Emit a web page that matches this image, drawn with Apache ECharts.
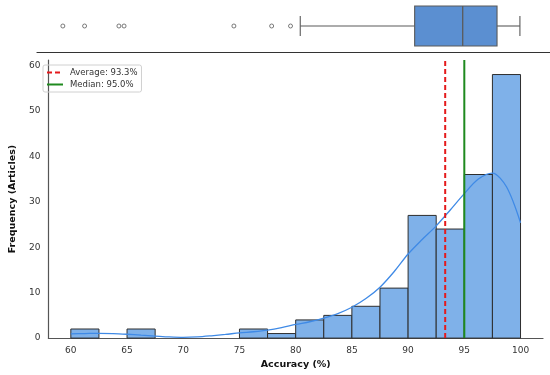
<!DOCTYPE html>
<html><head><meta charset="utf-8">
<script src="https://cdn.jsdelivr.net/npm/echarts@6/dist/echarts.min.js"></script>
<style>html,body{margin:0;padding:0;background:#fff}#c{width:550px;height:375px}</style>
</head><body><div id="c"></div>
<script>
// Histogram bins (start of each 2.5-wide bin) and counts
const binStarts = [60, 62.5, 65, 67.5, 70, 72.5, 75, 77.5, 80, 82.5, 85, 87.5, 90, 92.5, 95, 97.5];
const binWidth = 2.5;
const counts = [2, 0, 2, 0, 0, 0, 2, 1, 4, 5, 7, 11, 27, 24, 36, 58];
// KDE curve (scaled to counts)
const kdeX = [60, 61.25, 62.5, 63.75, 65, 66.25, 67.5, 68.75, 70, 71.25, 72.5, 73.75, 75, 76.25, 77.5, 78.75, 80, 81.25, 82.5, 83.75, 85, 86.25, 87.5, 88.75, 90, 91.25, 92.5, 93.75, 95, 96.25, 97.5, 98.75, 100];
const kdeY = [0.95, 1.0, 1.05, 1.0, 0.85, 0.65, 0.45, 0.25, 0.15, 0.25, 0.5, 0.8, 1.15, 1.4, 1.75, 2.3, 3.0, 3.6, 4.4, 5.4, 6.8, 8.7, 11.2, 14.6, 18.5, 21.7, 24.7, 28.2, 31.8, 35.0, 36.3, 33.3, 25.4];
// Box plot summary [lower whisker, Q1, median, Q3, upper whisker]
const boxStats = [80.8, 90.8, 95.0, 98.0, 100];
const outliers = [60.05, 61.95, 64.95, 65.4, 75.0, 78.3, 79.95];
const meanValue = 93.3;
const medianValue = 95.0;
const legendNames = ['Average: 93.3%', 'Median: 95.0%'];
const xTicks = [60, 65, 70, 75, 80, 85, 90, 95, 100];

const font = 'DejaVu Sans';
const chart = echarts.init(document.getElementById('c'), null, {renderer: 'canvas'});

const histData = binStarts.map((s, i) => [s, s + binWidth, counts[i]]);

chart.setOption({
  animation: false,
  textStyle: {fontFamily: font},
  legend: {
    data: legendNames,
    left: 43, top: 65, orient: 'vertical',
    itemWidth: 16, itemHeight: 9, itemGap: 3,
    padding: [3, 4, 3, 3],
    borderColor: '#d0d0d0', borderWidth: 1, borderRadius: 2,
    itemStyle: {opacity: 0},
    textStyle: {fontSize: 8.5, color: '#333', fontFamily: font, padding: [0, 0, 0, 2]}
  },
  grid: [
    {left: 37, right: 0, top: 0, height: 52},
    {left: 39, right: 7, top: 60, bottom: 33}
  ],
  xAxis: [
    {gridIndex: 0, type: 'value', min: 57.79, max: 102.63,
     axisLine: {show: true, lineStyle: {color: '#333', width: 1.2}},
     axisTick: {show: false}, axisLabel: {show: false}, splitLine: {show: false}},
    {gridIndex: 1, type: 'value', min: 58, max: 102,
     axisLine: {show: true, onZero: false, lineStyle: {color: '#555', width: 1.2}},
     axisTick: {show: false},
     axisLabel: {fontSize: 9, color: '#333', margin: 8, fontFamily: font, customValues: xTicks},
     splitLine: {show: false},
     name: 'Accuracy (%)', nameLocation: 'middle', nameGap: 19,
     nameTextStyle: {fontSize: 9.5, fontWeight: 'bold', color: '#111', fontFamily: font}}
  ],
  yAxis: [
    {gridIndex: 0, type: 'value', min: 0, max: 1, show: false},
    {gridIndex: 1, type: 'value', min: 0, max: 61.2, interval: 10,
     axisLine: {show: true, lineStyle: {color: '#555', width: 1.2}},
     axisTick: {show: false},
     axisLabel: {fontSize: 9, color: '#333', margin: 8, fontFamily: font,
       showMaxLabel: false},
     splitLine: {show: false},
     name: 'Frequency (Articles)', nameLocation: 'middle', nameGap: 24, nameRotate: 90,
     nameTextStyle: {fontSize: 9.5, fontWeight: 'bold', color: '#111', fontFamily: font}}
  ],
  series: [
    {
      type: 'custom', xAxisIndex: 0, yAxisIndex: 0,
      data: [boxStats],
      renderItem: function (params, api) {
        const mn = api.value(0), q1 = api.value(1), md = api.value(2), q3 = api.value(3), mx = api.value(4);
        const top = api.coord([q1, 0.885])[1], bot = api.coord([q1, 0.115])[1];
        const cTop = api.coord([q1, 0.69])[1], cBot = api.coord([q1, 0.31])[1];
        const cy = api.coord([q1, 0.5])[1];
        const x = v => api.coord([v, 0.5])[0];
        const ls = {stroke: '#5a5a5a', lineWidth: 1.1};
        return {type: 'group', children: [
          {type: 'line', shape: {x1: x(mn), y1: cy, x2: x(q1), y2: cy}, style: ls},
          {type: 'line', shape: {x1: x(q3), y1: cy, x2: x(mx), y2: cy}, style: ls},
          {type: 'line', shape: {x1: x(mn), y1: cTop, x2: x(mn), y2: cBot}, style: ls},
          {type: 'line', shape: {x1: x(mx), y1: cTop, x2: x(mx), y2: cBot}, style: ls},
          {type: 'rect', shape: {x: x(q1), y: top, width: x(q3) - x(q1), height: bot - top},
           style: {fill: '#5b8fd1', stroke: '#5a5a5a', lineWidth: 1.1}},
          {type: 'line', shape: {x1: x(md), y1: top, x2: x(md), y2: bot}, style: {stroke: '#5a5a5a', lineWidth: 1.3}}
        ]};
      }
    },
    {
      type: 'scatter', xAxisIndex: 0, yAxisIndex: 0,
      data: outliers.map(v => [v, 0.5]),
      symbol: 'circle', symbolSize: 4,
      itemStyle: {color: '#fff', borderColor: '#5a5a5a', borderWidth: 1}
    },
    {
      type: 'custom', xAxisIndex: 1, yAxisIndex: 1,
      data: histData,
      renderItem: function (params, api) {
        const p0 = api.coord([api.value(0), 0]);
        const p1 = api.coord([api.value(1), api.value(2)]);
        if (api.value(2) <= 0) return null;
        return {type: 'rect', shape: {x: p0[0], y: p1[1], width: p1[0] - p0[0], height: p0[1] - p1[1]},
          style: {fill: '#7fb1e9', stroke: '#2e2e2e', lineWidth: 1}};
      },
      z: 2
    },
    {
      type: 'line', xAxisIndex: 1, yAxisIndex: 1,
      data: kdeX.map((x, i) => [x, kdeY[i]]),
      smooth: 0.3, showSymbol: false, symbol: 'none',
      lineStyle: {color: '#3f8ae6', width: 1.3}, z: 3
    },
    {
      name: legendNames[0], type: 'line', xAxisIndex: 1, yAxisIndex: 1,
      data: [[meanValue, 0], [meanValue, 61.2]], symbol: 'none',
      itemStyle: {color: '#e41a1c'},
      lineStyle: {color: '#e41a1c', width: 2, type: [5, 3]}, z: 4
    },
    {
      name: legendNames[1], type: 'line', xAxisIndex: 1, yAxisIndex: 1,
      data: [[medianValue, 0], [medianValue, 61.2]], symbol: 'none',
      itemStyle: {color: '#1f8a1f'},
      lineStyle: {color: '#1f8a1f', width: 2}, z: 4
    }
  ]
});
</script></body></html>
